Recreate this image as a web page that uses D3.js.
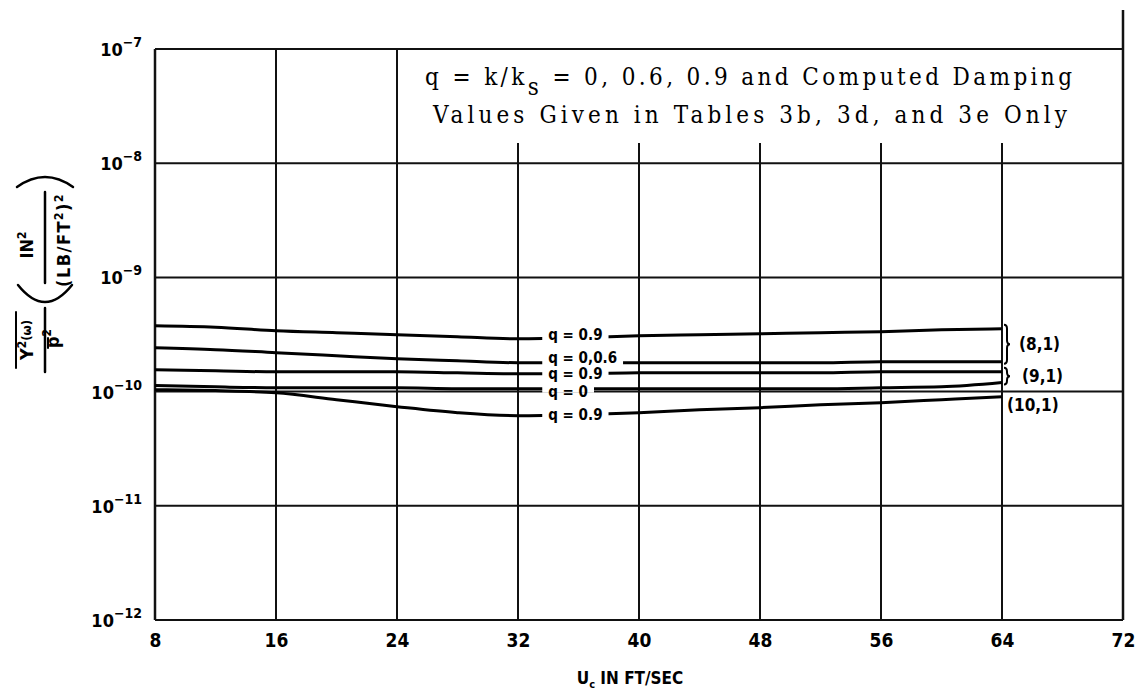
<!DOCTYPE html>
<html>
<head>
<meta charset="utf-8">
<script src="https://cdn.jsdelivr.net/npm/d3@7"></script>
<style>
  body { margin: 0; background: #fff; }
  svg { display: block; }
  .cond { font-family: "DejaVu Sans", sans-serif; font-stretch: condensed; font-weight: bold; fill: #000; }
  .bold { font-family: "DejaVu Sans", sans-serif; font-stretch: condensed; font-weight: bold; fill: #000; }
  .type { font-family: "DejaVu Serif", "Liberation Serif", serif; font-stretch: condensed; fill: #000; }
</style>
</head>
<body>
<div id="chart"></div>
<script>
// axis ticks
const ucTicks = [8, 16, 24, 32, 40, 48, 56, 64, 72];
const decades = [-12, -11, -10, -9, -8, -7];

// flow velocity U_c (ft/sec) where the curves were read
const uc = [8, 12, 16, 20, 24, 28, 32, 36, 40, 44, 48, 52, 56, 60, 64];

// mode (8,1)
const m81q09 = [3.77e-10, 3.66e-10, 3.41e-10, 3.28e-10, 3.15e-10, 3.02e-10, 2.90e-10, 2.96e-10,
                3.08e-10, 3.15e-10, 3.21e-10, 3.28e-10, 3.34e-10, 3.48e-10, 3.55e-10];
const m81q0 = [2.42e-10, 2.33e-10, 2.19e-10, 2.06e-10, 1.94e-10, 1.86e-10, 1.79e-10, 1.79e-10,
               1.79e-10, 1.79e-10, 1.79e-10, 1.79e-10, 1.83e-10, 1.83e-10, 1.83e-10];
// mode (9,1)
const m91q09 = [1.55e-10, 1.52e-10, 1.49e-10, 1.49e-10, 1.49e-10, 1.46e-10, 1.43e-10, 1.43e-10,
                1.46e-10, 1.46e-10, 1.46e-10, 1.46e-10, 1.49e-10, 1.49e-10, 1.49e-10];
const m91q0 = [1.13e-10, 1.10e-10, 1.08e-10, 1.08e-10, 1.08e-10, 1.06e-10, 1.06e-10, 1.06e-10,
               1.06e-10, 1.06e-10, 1.06e-10, 1.06e-10, 1.08e-10, 1.10e-10, 1.20e-10];
// mode (10,1)
const m101q09 = [1.04e-10, 1.02e-10, 9.78e-11, 8.49e-11, 7.38e-11, 6.54e-11, 6.15e-11, 6.28e-11,
                 6.54e-11, 6.95e-11, 7.23e-11, 7.68e-11, 8.00e-11, 8.49e-11, 9.02e-11];

const curves = [
  { label: "q = 0.9",    values: m81q09,  shift: -3 },
  { label: "q = 0,0.6",  values: m81q0,   shift: -5 },
  { label: "q = 0.9",    values: m91q09,  shift: 0 },
  { label: "q = 0",      values: m91q0,   shift: 3 },
  { label: "q = 0.9",    values: m101q09, shift: 0 }
];
const modeLabels = ["(8,1)", "(9,1)", "(10,1)"];
const labelAt = 34;   // U_c where the q labels start

const width = 1146, height = 691;
const svg = d3.select("#chart").append("svg")
  .attr("width", width)
  .attr("height", height);

const x = d3.scaleLinear().domain([8, 72]).range([155, 1123]);
const y = d3.scaleLog().domain([1e-12, 1e-7]).range([620, 49]);

// grid
const grid = svg.append("g").attr("stroke", "#111").attr("stroke-width", 2);
grid.selectAll(".h")
  .data(decades)
  .enter().append("line")
  .attr("x1", x(8)).attr("x2", x(72))
  .attr("y1", d => y(Math.pow(10, d)))
  .attr("y2", d => y(Math.pow(10, d)));
grid.selectAll(".v")
  .data(ucTicks)
  .enter().append("line")
  .attr("x1", d => x(d)).attr("x2", d => x(d))
  .attr("y1", d => d === 72 ? 10 : (d > 24 ? 143 : y(1e-7)))
  .attr("y2", y(1e-12))
  .attr("stroke-width", d => (d === 8 || d === 72) ? 2.5 : 2);

// title box text (typewritten)
const title = svg.append("text").attr("class", "type")
  .attr("font-size", 24)
  .attr("x", 425).attr("y", 85)
  .attr("textLength", 647).attr("lengthAdjust", "spacing");
title.append("tspan").text("q = k/k");
title.append("tspan").attr("dy", 10).text("s");
title.append("tspan").attr("dy", -10).text(" = 0, 0.6, 0.9 and Computed Damping");
svg.append("text").attr("class", "type")
  .attr("font-size", 24)
  .attr("x", 433).attr("y", 123)
  .attr("textLength", 634).attr("lengthAdjust", "spacing")
  .text("Values Given in Tables 3b, 3d, and 3e Only");

// curves
const line = d3.line()
  .x((d, i) => x(uc[i]))
  .y(d => y(d))
  .curve(d3.curveMonotoneX);

svg.append("g")
  .selectAll("path")
  .data(curves)
  .enter().append("path")
  .attr("d", d => line(d.values))
  .attr("fill", "none")
  .attr("stroke", "#000")
  .attr("stroke-width", 3);

// q labels, breaking the line they sit on
const labels = svg.append("g");
curves.forEach(c => {
  const ly = y(c.values[7]);
  const g = labels.append("g");
  const t = g.append("text").attr("class", "cond")
    .attr("font-size", 15)
    .attr("x", x(labelAt))
    .attr("y", ly + c.shift)
    .attr("dominant-baseline", "central")
    .text(c.label);
  const bb = t.node().getBBox();
  g.insert("rect", "text")
    .attr("x", bb.x - 6).attr("width", bb.width + 12)
    .attr("y", ly - 4).attr("height", 8)
    .attr("fill", "#fff");
});

// braces and mode labels at the right end
function brace(xb, y0, y1) {
  const w = 6, r = 4, m = (y0 + y1) / 2, h = xb + w / 2;
  return `M${xb},${y0} Q${h},${y0} ${h},${y0 + r} L${h},${m - r} Q${h},${m} ${xb + w},${m}` +
         ` Q${h},${m} ${h},${m + r} L${h},${y1 - r} Q${h},${y1} ${xb},${y1}`;
}
const end = uc.length - 1;
const xb = x(64) + 2;
const b81 = [y(m81q09[end]) - 4, y(m81q0[end]) + 2];
const b91 = [y(m91q09[end]) - 4, y(m91q0[end]) + 2];
svg.append("g").attr("fill", "none").attr("stroke", "#000").attr("stroke-width", 2)
  .selectAll("path")
  .data([b81, b91])
  .enter().append("path")
  .attr("d", d => brace(xb, d[0], d[1]));

const modeY = [(b81[0] + b81[1]) / 2, (b91[0] + b91[1]) / 2, y(m101q09[end]) + 8];
const modeX = [xb + 15, xb + 18, xb + 3];
svg.append("g").selectAll("text")
  .data(modeLabels)
  .enter().append("text")
  .attr("class", "cond")
  .attr("font-size", 17)
  .attr("x", (d, i) => modeX[i])
  .attr("y", (d, i) => modeY[i])
  .attr("dominant-baseline", "central")
  .text(d => d);

// x axis labels
const xAxis = svg.append("g")
  .attr("transform", `translate(0,${y(1e-12)})`)
  .call(d3.axisBottom(x).tickValues(ucTicks).tickSize(0).tickFormat(d3.format("d")));
xAxis.select(".domain").remove();
xAxis.selectAll("text")
  .attr("class", "cond")
  .attr("font-size", 19)
  .attr("y", 27).attr("dy", 0);

const xTitle = svg.append("text").attr("class", "cond")
  .attr("font-size", 17)
  .attr("text-anchor", "middle")
  .attr("x", 630).attr("y", 684);
xTitle.append("tspan").text("U");
xTitle.append("tspan").attr("font-size", 11).attr("dy", 4).text("c");
xTitle.append("tspan").attr("dy", -4).text(" IN FT/SEC");

// y axis labels
const yLab = svg.append("g").selectAll("text")
  .data(decades)
  .enter().append("text")
  .attr("class", "cond")
  .attr("font-size", 18)
  .attr("text-anchor", "end")
  .attr("x", 142)
  .attr("y", d => y(Math.pow(10, d)) + 7);
yLab.append("tspan").text("10");
yLab.append("tspan").attr("font-size", 14).attr("dy", -9).text(d => "\u2212" + (-d));

// y axis title
const yt = svg.append("g")
  .attr("transform", "translate(45,280) rotate(-90)")
  .attr("stroke-linecap", "round");
const num1 = yt.append("text").attr("class", "bold").attr("font-size", 18)
  .attr("text-anchor", "middle").attr("x", -60).attr("y", -12);
num1.append("tspan").text("Y");
num1.append("tspan").attr("font-size", 12).attr("dy", -7).text("2");
num1.append("tspan").attr("font-size", 13).attr("dy", 5).text("(\u03C9)");
yt.append("line").attr("x1", -88).attr("x2", -32).attr("y1", -29).attr("y2", -29)
  .attr("stroke", "#000").attr("stroke-width", 2);
yt.append("line").attr("x1", -92).attr("x2", -28).attr("y1", 0).attr("y2", 0)
  .attr("stroke", "#000").attr("stroke-width", 2.5);
const den1 = yt.append("text").attr("class", "bold").attr("font-size", 18)
  .attr("x", -68).attr("y", 14);
den1.append("tspan").text("p");
den1.append("tspan").attr("font-size", 12).attr("dy", -8).text("2");
yt.append("line").attr("x1", -68).attr("x2", -58).attr("y1", 3).attr("y2", 3)
  .attr("stroke", "#000").attr("stroke-width", 2);

yt.append("path").attr("d", "M-5,-27 Q-39,0 -5,27")
  .attr("fill", "none").attr("stroke", "#000").attr("stroke-width", 2.5);
yt.append("path").attr("d", "M93,-28 Q113,0 93,28")
  .attr("fill", "none").attr("stroke", "#000").attr("stroke-width", 2.5);

const num2 = yt.append("text").attr("class", "bold").attr("font-size", 18)
  .attr("text-anchor", "middle").attr("x", 35).attr("y", -12);
num2.append("tspan").text("IN");
num2.append("tspan").attr("font-size", 12).attr("dy", -7).text("2");
yt.append("line").attr("x1", -3).attr("x2", 88).attr("y1", 0).attr("y2", 0)
  .attr("stroke", "#000").attr("stroke-width", 2.5);
const den2 = yt.append("text").attr("class", "bold").attr("font-size", 18)
  .attr("text-anchor", "middle").attr("letter-spacing", 1.5).attr("x", 40).attr("y", 25);
den2.append("tspan").text("(LB/FT");
den2.append("tspan").attr("font-size", 12).attr("dy", -7).text("2");
den2.append("tspan").attr("dy", 7).text(")");
den2.append("tspan").attr("font-size", 12).attr("dy", -7).text("2");
</script>
</body>
</html>
